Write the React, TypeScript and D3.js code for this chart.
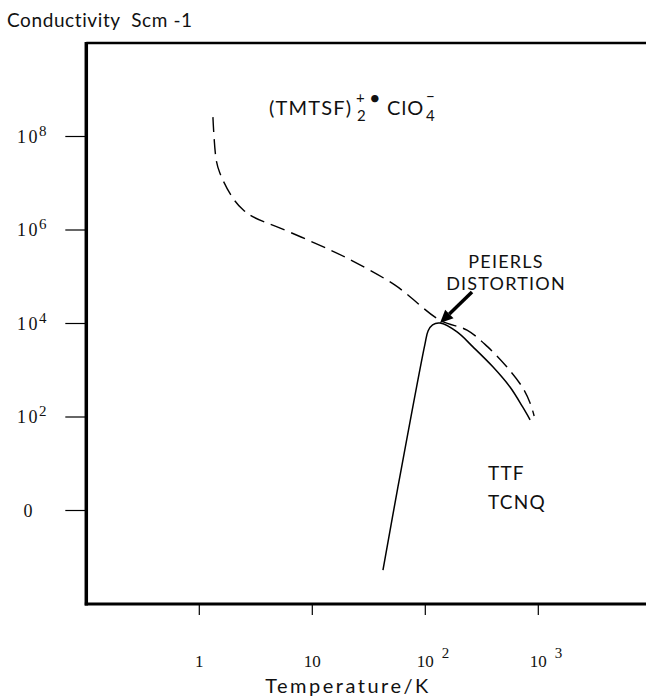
import React, { useEffect, useRef } from "react";
import * as d3 from "d3";

const WIDTH = 646;
const HEIGHT = 699;

// (TMTSF)2 ClO4 — dashed curve. Temperature in K, conductivity in S/cm
const tmtsfT = [1.32, 1.41, 1.52, 1.95, 2.44, 3.0, 5.2, 12.4, 20.3, 54, 135, 234, 355, 528, 720, 846, 919];
const tmtsfSigma = [2.6e8, 3.2e7, 1.66e7, 5.1e6, 2.7e6, 1.9e6, 1.1e6, 4.4e5, 2.5e5, 6.6e4, 1.17e4, 7.2e3, 3.2e3, 1.17e3, 440, 200, 105];

// TTF-TCNQ — solid curve
const ttfT = [42.2, 57, 99, 106, 116, 135, 191, 264, 398, 562, 729, 846];
const ttfSigma = [0.053, 3.0, 3500, 7000, 9400, 10200, 6600, 3160, 1170, 437, 162, 87];

// axis ticks
const xTicks = [1, 10, 100, 1000];
const xTickBases = ["1", "10", "10", "10"];
const xTickSups = ["", "", "2", "3"];
const yTicks = [1, 1e2, 1e4, 1e6, 1e8];
const yTickBases = ["0", "10", "10", "10", "10"];
const yTickSups = ["", "2", "4", "6", "8"];

// annotations (anchored in data coordinates)
const arrowFrom: [number, number] = [259, 47200];
const arrowTo: [number, number] = [135, 10230];

const SANS = "Lato, 'DejaVu Sans', sans-serif";
const SERIF = "'Liberation Serif', 'DejaVu Serif', serif";

export default function App() {
  const svgRef = useRef<SVGSVGElement>(null);

  useEffect(() => {
    const svg = d3.select(svgRef.current);
    svg.selectAll("*").remove();

    const x = d3.scaleLog().domain([1, 1000]).range([199.3, 538.3]);
    const y = d3.scaleLog().domain([1e-2, 1e10]).range([604, 43]);

    const left = x(0.1);
    const top = y(1e10);
    const bottom = y(1e-2);

    svg.append("rect").attr("width", WIDTH).attr("height", HEIGHT).attr("fill", "#fff");

    // frame
    svg.append("line")
      .attr("x1", left).attr("x2", WIDTH)
      .attr("y1", top).attr("y2", top)
      .attr("stroke", "#000").attr("stroke-width", 2.5);
    svg.append("line")
      .attr("x1", left - 1.5).attr("x2", WIDTH)
      .attr("y1", bottom).attr("y2", bottom)
      .attr("stroke", "#000").attr("stroke-width", 3);
    svg.append("line")
      .attr("x1", left).attr("x2", left)
      .attr("y1", top - 1).attr("y2", bottom + 1.5)
      .attr("stroke", "#000").attr("stroke-width", 3.5);

    // y ticks
    const yg = svg.append("g");
    yTicks.forEach((t, i) => {
      yg.append("line")
        .attr("x1", left - 21).attr("x2", left)
        .attr("y1", y(t)).attr("y2", y(t))
        .attr("stroke", "#000").attr("stroke-width", 1.2);
      const txt = yg.append("text")
        .attr("font-family", SERIF)
        .attr("font-size", 18)
        .attr("y", y(t) + 6)
        .attr("fill", "#111");
      if (yTickSups[i] === "") {
        txt.attr("x", 28).attr("text-anchor", "middle").text(yTickBases[i]);
      } else {
        txt.attr("x", 17).attr("letter-spacing", 2.5);
        txt.append("tspan").text(yTickBases[i]);
        txt.append("tspan")
          .attr("dx", -1).attr("dy", -7)
          .attr("font-size", 15)
          .text(yTickSups[i]);
      }
    });

    // x ticks
    const xg = svg.append("g");
    xTicks.forEach((t, i) => {
      xg.append("line")
        .attr("x1", x(t)).attr("x2", x(t))
        .attr("y1", bottom).attr("y2", bottom + 11)
        .attr("stroke", "#000").attr("stroke-width", 1.2);
      const txt = xg.append("text")
        .attr("font-family", SERIF)
        .attr("font-size", 17)
        .attr("x", x(t))
        .attr("y", 667)
        .attr("fill", "#111");
      if (xTickSups[i] === "") {
        txt.attr("text-anchor", "middle").text(xTickBases[i]);
      } else {
        txt.attr("text-anchor", "start").attr("dx", -8.5);
        txt.append("tspan").text(xTickBases[i]);
        txt.append("tspan")
          .attr("dx", 8).attr("dy", -9)
          .attr("font-size", 15)
          .text(xTickSups[i]);
      }
    });

    // curves
    const line = d3.line<[number, number]>()
      .x(d => x(d[0]))
      .y(d => y(d[1]))
      .curve(d3.curveCatmullRom.alpha(0.5));

    const tmtsf: [number, number][] = tmtsfT.map((t, i) => [t, tmtsfSigma[i]]);
    const ttf: [number, number][] = ttfT.map((t, i) => [t, ttfSigma[i]]);

    svg.append("path")
      .datum(tmtsf)
      .attr("d", line)
      .attr("fill", "none")
      .attr("stroke", "#000")
      .attr("stroke-width", 1.4)
      .attr("stroke-dasharray", "15,7");

    svg.append("path")
      .datum(ttf)
      .attr("d", line)
      .attr("fill", "none")
      .attr("stroke", "#000")
      .attr("stroke-width", 1.5);

    // arrow
    const ax1 = x(arrowFrom[0]), ay1 = y(arrowFrom[1]);
    const ax2 = x(arrowTo[0]), ay2 = y(arrowTo[1]);
    const ang = Math.atan2(ay2 - ay1, ax2 - ax1);
    const headLen = 13, headW = 6;
    const bx = ax2 - headLen * Math.cos(ang), by = ay2 - headLen * Math.sin(ang);
    svg.append("line")
      .attr("x1", ax1).attr("y1", ay1)
      .attr("x2", bx).attr("y2", by)
      .attr("stroke", "#000").attr("stroke-width", 3.5);
    const nx = -Math.sin(ang), ny = Math.cos(ang);
    svg.append("polygon")
      .attr("points", [
        [ax2, ay2],
        [bx + nx * headW, by + ny * headW],
        [bx - nx * headW, by - ny * headW],
      ].map(p => p.join(",")).join(" "))
      .attr("fill", "#000");

    // two-line labels
    const twoLine = (tx: number, sy: number, lines: string[], gap: number, anchor: string, size: number) => {
      const t = svg.append("text")
        .attr("font-family", SANS)
        .attr("font-size", size)
        .attr("letter-spacing", 1.2)
        .attr("text-anchor", anchor)
        .attr("fill", "#111");
      lines.forEach((s, i) => {
        t.append("tspan")
          .attr("x", x(tx))
          .attr("y", y(sy) + i * gap)
          .text(s);
      });
    };

    twoLine(518, 1.54e5, ["PEIERLS", "DISTORTION"], 22, "middle", 18);
    twoLine(359, 4.5, ["TTF", "TCNQ"], 29, "start", 19);

    // compound label with stacked sub/superscripts
    const x0 = x(4.14), y0 = y(2.9e8);
    const comp = svg.append("text")
      .attr("font-family", SANS)
      .attr("font-size", 20)
      .attr("letter-spacing", 1.2)
      .attr("fill", "#111");
    comp.append("tspan").attr("x", x0).attr("y", y0).text("(TMTSF)");
    comp.append("tspan").attr("x", x0 + 88).attr("y", y0 + 6.5).attr("font-size", 15).text("2");
    comp.append("tspan").attr("x", x0 + 87).attr("y", y0 - 12).attr("font-size", 15).text("+");
    comp.append("tspan").attr("x", x0 + 100).attr("y", y0 - 10).attr("font-size", 20).text("•");
    comp.append("tspan").attr("x", x0 + 118).attr("y", y0).text("ClO");
    comp.append("tspan").attr("x", x0 + 157).attr("y", y0 + 6.5).attr("font-size", 15).text("4");
    comp.append("tspan").attr("x", x0 + 157).attr("y", y0 - 13).attr("font-size", 15).text("−");

    // axis titles
    svg.append("text")
      .attr("x", 7).attr("y", 27)
      .attr("font-family", SANS)
      .attr("font-size", 19)
      .attr("letter-spacing", 0.6)
      .style("white-space", "pre")
      .attr("fill", "#111")
      .text("Conductivity  Scm -1");

    svg.append("text")
      .attr("x", 348).attr("y", 693)
      .attr("font-family", SANS)
      .attr("font-size", 20)
      .attr("letter-spacing", 2.5)
      .attr("text-anchor", "middle")
      .attr("fill", "#111")
      .text("Temperature/K");
  }, []);

  return (
    <svg
      ref={svgRef}
      width={WIDTH}
      height={HEIGHT}
      style={{ position: "absolute", left: 0, top: 0, display: "block" }}
    />
  );
}
